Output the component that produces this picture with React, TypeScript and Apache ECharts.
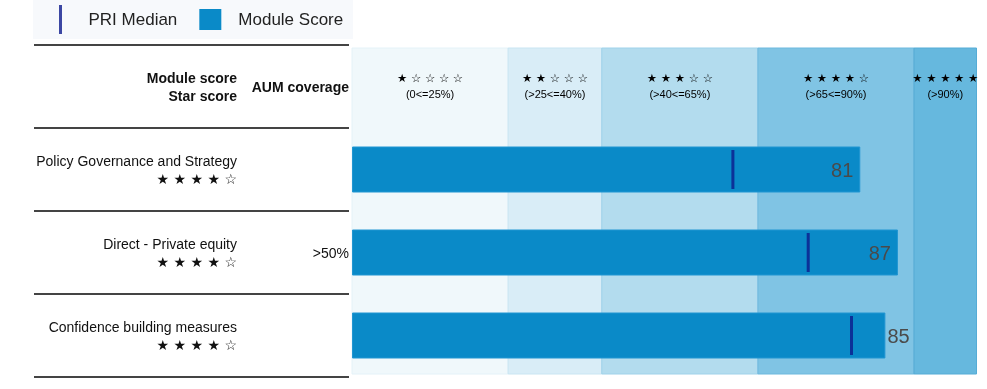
import React, { useEffect, useRef } from 'react';
import * as echarts from 'echarts';

const categories = ['Policy Governance and Strategy', 'Direct - Private equity', 'Confidence building measures'];
const starScores = ['★ ★ ★ ★ ☆', '★ ★ ★ ★ ☆', '★ ★ ★ ★ ☆'];
const aumCoverage = ['', '>50%', ''];
const moduleScores = [81, 87, 85];
const priMedians = [60.7, 72.7, 79.6];
const scoreLabelPos = ['insideRight', 'insideRight', 'right'];

const bandEdges = [0, 25, 40, 65, 90, 100];
const bandStars = ['★☆☆☆☆', '★★☆☆☆', '★★★☆☆', '★★★★☆', '★★★★★'];
const bandRanges = ['(0<=25%)', '(>25<=40%)', '(>40<=65%)', '(>65<=90%)', '(>90%)'];
const bandColors = ['#f0f8fb', '#d9edf7', '#b3dcee', '#80c4e4', '#66b8de'];
const bandBorders = ['#e4f2f8', '#c9e5f2', '#9fd2ea', '#6db9de', '#55acd6'];

const FONT = 'Liberation Sans, Arial, Helvetica, sans-serif';

export default function App() {
  const ref = useRef<HTMLDivElement>(null);
  useEffect(() => {
    if (!ref.current) return;
    const chart = echarts.init(ref.current, undefined, { renderer: 'svg' });
    const bands = bandStars.map((s, i) => [
      {
        xAxis: bandEdges[i],
        itemStyle: { color: bandColors[i], borderColor: bandBorders[i], borderWidth: 1 },
        label: {
          show: true,
          position: 'insideTop',
          distance: 22,
          formatter: `{s|${s.split('').join(' ')}}\n{r|${bandRanges[i]}}`,
          rich: {
            s: { fontSize: 11.5, lineHeight: 16, color: '#000', fontFamily: 'DejaVu Sans' },
            r: { fontSize: 11, lineHeight: 16, color: '#000', fontFamily: FONT },
          },
        },
      },
      { xAxis: bandEdges[i + 1] },
    ]);
    const lineY = [45, 128, 211, 294, 377];
    chart.setOption({
      animation: false,
      textStyle: { fontFamily: FONT },
      grid: [
        { left: 352, right: 10.5, top: 48, bottom: 15, outerBoundsMode: 'none' },
        { left: 352, right: 7.5, top: 128, bottom: 12, outerBoundsMode: 'none' },
      ],
      xAxis: [
        { gridIndex: 0, type: 'value', min: 0, max: 100, show: false },
        { gridIndex: 1, type: 'value', min: 0, max: 100, show: false },
      ],
      yAxis: [
        { gridIndex: 0, type: 'value', min: 0, max: 1, show: false },
        {
          gridIndex: 1,
          type: 'category',
          position: 'left',
          inverse: true,
          data: categories,
          axisLine: { show: false },
          axisTick: { show: false },
          splitLine: { show: false },
          axisLabel: {
            margin: 115,
            formatter: (v: string, idx: number) => `{n|${v}}\n{s|${starScores[idx]}}`,
            rich: {
              n: { fontSize: 14, lineHeight: 18, color: '#111', fontFamily: FONT, align: 'right' },
              s: { fontSize: 14, lineHeight: 18, color: '#111', fontFamily: 'DejaVu Sans', align: 'right' },
            },
          },
        },
        {
          gridIndex: 1,
          type: 'category',
          position: 'left',
          offset: 0,
          inverse: true,
          data: aumCoverage,
          axisLine: { show: false },
          axisTick: { show: false },
          splitLine: { show: false },
          axisLabel: { margin: 3, fontSize: 14, color: '#111', fontFamily: FONT },
        },
      ],
      legend: {
        left: 59,
        top: 5,
        padding: 0,
        itemWidth: 22,
        itemHeight: 29,
        itemGap: 22,
        selectedMode: false,
        textStyle: { fontSize: 17, color: '#222', fontFamily: FONT, padding: [0, 0, 0, 12] },
        data: [
          { name: 'PRI Median', icon: 'path://M0 0H3V29H0Z', itemStyle: { color: '#0c1a8c', borderWidth: 0 } },
          { name: 'Module Score', icon: 'path://M0 0H22V21H0Z', itemStyle: { color: '#0a8ac8', borderWidth: 0 } },
        ],
      },
      graphic: [
        { type: 'rect', z: -10, shape: { x: 33, y: 0, width: 320, height: 39 }, style: { fill: '#f7f9fc' } },
        ...lineY.map((y) => ({
          type: 'line',
          shape: { x1: 34, y1: y, x2: 349, y2: y },
          style: { stroke: '#444', lineWidth: 2 },
        })),
        {
          type: 'text',
          x: 237,
          y: 78,
          style: { text: 'Module score', align: 'right', verticalAlign: 'middle', font: `bold 14px ${FONT}`, fill: '#111' },
        },
        {
          type: 'text',
          x: 237,
          y: 96,
          style: { text: 'Star score', align: 'right', verticalAlign: 'middle', font: `bold 14px ${FONT}`, fill: '#111' },
        },
        {
          type: 'text',
          x: 349,
          y: 87,
          style: { text: 'AUM coverage', align: 'right', verticalAlign: 'middle', font: `bold 14px ${FONT}`, fill: '#111' },
        },
      ],
      series: [
        {
          type: 'scatter',
          xAxisIndex: 0,
          yAxisIndex: 0,
          silent: true,
          symbolSize: 0,
          data: [[50, 0.5]],
          markArea: { silent: true, data: bands },
        },
        {
          name: 'Module Score',
          type: 'bar',
          xAxisIndex: 1,
          yAxisIndex: 1,
          barWidth: 46,
          itemStyle: { color: '#0a8ac8', borderColor: '#2196d2', borderWidth: 1 },
          data: moduleScores.map((v, i) => ({
            value: v,
            label: {
              show: true,
              position: scoreLabelPos[i],
              distance: scoreLabelPos[i] === 'right' ? 2 : 7,
              fontSize: 20,
              color: '#4a4a4a',
              fontFamily: FONT,
            },
          })),
        },
        {
          name: 'PRI Median',
          type: 'scatter',
          xAxisIndex: 1,
          yAxisIndex: 1,
          symbol: 'rect',
          symbolSize: [3, 39],
          itemStyle: { color: '#0c1a8c' },
          z: 5,
          data: priMedians.map((m, i) => [m, i]),
        },
      ],
    });
    return () => chart.dispose();
  }, []);
  return <div ref={ref} style={{ position: 'fixed', left: 0, top: 0, width: 987, height: 389 }} />;
}
